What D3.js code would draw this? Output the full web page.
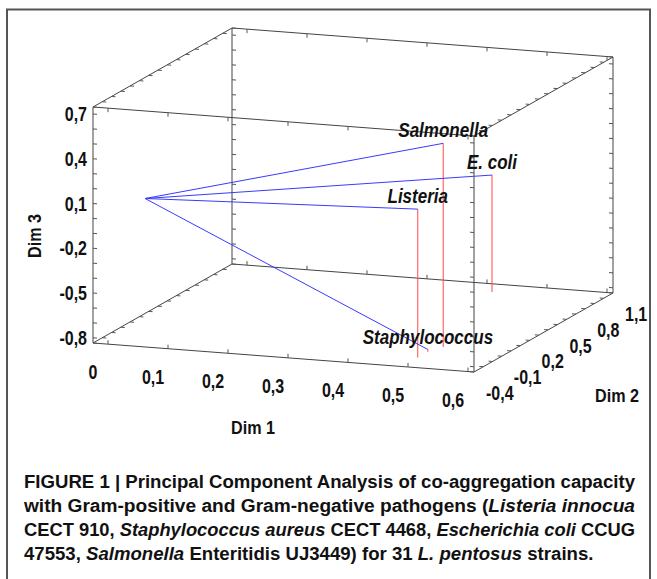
<!DOCTYPE html>
<meta charset="utf-8">
<style>
body { margin: 0; background: #fff; }
svg text { font-family: "Liberation Sans", Arial, "Helvetica Neue", sans-serif; font-weight: bold; fill: #111; }
.edge { stroke: #444; stroke-width: 1; fill: none; }
.tick { stroke: #555; stroke-width: 1; }
.vec { stroke: #3a3aff; stroke-width: 1; fill: none; }
.drop { stroke: #ff4a4a; stroke-width: 1; }
</style>
<svg width="657" height="579"></svg>
<script src="https://d3js.org/d3.v7.min.js"></script>
<script>
// PCA weights of the four pathogens
var pathogens = ["Salmonella", "E. coli", "Listeria", "Staphylococcus"];
var dim1 = [0.50, 0.43, 0.49, 0.49];
var dim2 = [-0.02, 0.96, -0.23, -0.12];
var dim3 = [0.53, -0.05, 0.16, -0.82];

// axis tick labels
var dim1Ticks = [0, 0.1, 0.2, 0.3, 0.4, 0.5, 0.6];
var dim2Ticks = [-0.4, -0.1, 0.2, 0.5, 0.8, 1.1];
var dim3Ticks = [-0.8, -0.5, -0.2, 0.1, 0.4, 0.7];

var captionLines = [
  [["FIGURE 1 | Principal Component Analysis of co-aggregation capacity", 0]],
  [["with Gram-positive and Gram-negative pathogens (", 0], ["Listeria innocua", 1]],
  [["CECT 910, ", 0], ["Staphylococcus aureus", 1], [" CECT 4468, ", 0], ["Escherichia coli", 1], [" CCUG", 0]],
  [["47553, ", 0], ["Salmonella", 1], [" Enteritidis UJ3449) for 31 ", 0], ["L. pentosus", 1], [" strains.", 0]]
];

var svg = d3.select("svg");
var fmt = d3.formatLocale({decimal: ",", thousands: ".", grouping: [3], currency: ["", ""], minus: "-"}).format(".1~f");

// squeeze text horizontally (narrow font look)
function narrow(sel, k) {
  sel.each(function() {
    var w = this.getComputedTextLength();
    d3.select(this).attr("textLength", w * k).attr("lengthAdjust", "spacingAndGlyphs");
  });
}

// frame
svg.append("rect")
    .attr("x", 7).attr("y", 9.5)
    .attr("width", 643).attr("height", 600)
    .attr("fill", "none").attr("stroke", "#555").attr("stroke-width", 2);

// oblique box: corner + edge vectors
var o = [93, 343],
    v1 = [381, 29],
    v2 = [139, -79],
    v3 = [0, -236];

var f1 = d3.scaleLinear().domain([-0.025, 0.61]).range([0, 1]);
var f2 = d3.scaleLinear().domain([-0.4, 1.1]).range([0, 1]);
var f3 = d3.scaleLinear().domain([-0.835, 0.747]).range([0, 1]);

function proj(a, b, c) {
  return [o[0] + a * v1[0] + b * v2[0] + c * v3[0],
          o[1] + a * v1[1] + b * v2[1] + c * v3[1]];
}
function pt(x, y, z) { return proj(f1(x), f2(y), f3(z)); }

var line = d3.line();
var g = svg.append("g");

// 12 box edges
var edges = [];
[0, 1].forEach(function(p) {
  [0, 1].forEach(function(q) {
    edges.push({axis: 0, a: [0, p, q], b: [1, p, q]});
    edges.push({axis: 1, a: [p, 0, q], b: [p, 1, q]});
    edges.push({axis: 2, a: [p, q, 0], b: [p, q, 1]});
  });
});

g.selectAll(".edge").data(edges).enter().append("path")
    .attr("class", "edge")
    .attr("d", function(e) { return line([proj.apply(null, e.a), proj.apply(null, e.b)]); });

// minor ticks every 0.1 on every edge, pointing into the face
var tickVals = [d3.range(0, 0.61, 0.1), d3.range(-0.4, 1.11, 0.1), d3.range(-0.8, 0.71, 0.1)];
var fs = [f1, f2, f3];
var tks = [];
edges.forEach(function(e) {
  tickVals[e.axis].forEach(function(v) {
    var c = e.a.slice();
    c[e.axis] = fs[e.axis](v);
    var p = proj.apply(null, c), d;
    if (e.axis === 0) d = [0, c[2] ? 4 : -4];
    else d = [c[0] ? -4 : 4, c[0] ? -0.3 : 0.3];
    tks.push([p, [p[0] + d[0], p[1] + d[1]]]);
  });
});
g.selectAll(".tick").data(tks).enter().append("path")
    .attr("class", "tick")
    .attr("d", function(d) { return line(d); });

// tick labels
var l3 = g.selectAll(".l3").data(dim3Ticks).enter().append("text")
    .attr("x", 87)
    .attr("y", function(d) { return proj(0, 0, f3(d))[1] + 7; })
    .attr("text-anchor", "end")
    .style("font-size", "20px")
    .text(fmt);

var l1 = g.selectAll(".l1").data(dim1Ticks).enter().append("text")
    .attr("x", function(d) { return proj(f1(d), 0, 0)[0] - 15; })
    .attr("y", function(d) { return proj(f1(d), 0, 0)[1] + 35; })
    .attr("text-anchor", "middle")
    .style("font-size", "20px")
    .text(fmt);

var l2 = g.selectAll(".l2").data(dim2Ticks).enter().append("text")
    .attr("x", function(d) { return proj(1, f2(d), 0)[0] + 12; })
    .attr("y", function(d) { return proj(1, f2(d), 0)[1] + 28; })
    .attr("text-anchor", "start")
    .style("font-size", "20px")
    .text(fmt);

// axis titles
var t1 = svg.append("text").attr("x", 253).attr("y", 434).attr("text-anchor", "middle")
    .style("font-size", "19px").text("Dim 1");
var t2 = svg.append("text").attr("x", 617).attr("y", 402).attr("text-anchor", "middle")
    .style("font-size", "19px").text("Dim 2");
var t3 = svg.append("text").attr("transform", "translate(41,236) rotate(-90)").attr("text-anchor", "middle")
    .style("font-size", "19px").text("Dim 3");

// weight vectors, drop lines and labels
var pts = pathogens.map(function(name, i) {
  return {name: name, top: pt(dim1[i], dim2[i], dim3[i]), floor: pt(dim1[i], dim2[i], f3.domain()[0])};
});
var zero = pt(0, 0, 0);

g.selectAll(".drop").data(pts).enter().append("path")
    .attr("class", "drop")
    .attr("d", function(d) { return line([d.top, d.floor]); });

g.selectAll(".vec").data(pts).enter().append("path")
    .attr("class", "vec")
    .attr("d", function(d) { return line([zero, d.top]); });

var names = g.selectAll(".name").data(pts).enter().append("text")
    .attr("x", function(d) { return d.top[0]; })
    .attr("y", function(d) { return d.top[1] - 6; })
    .attr("text-anchor", "middle")
    .style("font-size", "20px")
    .style("font-style", "italic")
    .text(function(d) { return d.name; });

[l1, l2, l3].forEach(function(s) { narrow(s, 0.8); });
[t1, t2, t3, names].forEach(function(s) { narrow(s, 0.85); });

// caption
var cap = svg.append("g");
captionLines.forEach(function(parts, i) {
  var t = cap.append("text")
      .attr("x", 24)
      .attr("y", 488 + i * 24)
      .style("font-size", "17.5px");
  parts.forEach(function(p) {
    t.append("tspan").style("font-style", p[1] ? "italic" : "normal").text(p[0]);
  });
});
var full = 611;
var k = full / cap.select("text").node().getComputedTextLength();
cap.selectAll("text").each(function(d, i) {
  var w = this.getComputedTextLength();
  d3.select(this)
      .attr("textLength", i < 3 ? full : w * k)
      .attr("lengthAdjust", "spacingAndGlyphs");
});
</script>
